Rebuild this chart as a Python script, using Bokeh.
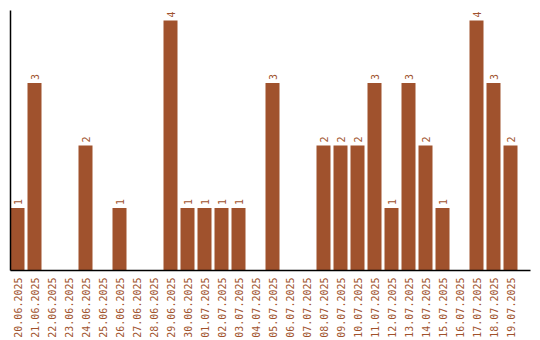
import math
from bokeh.plotting import figure
from bokeh.models import FixedTicker, Range1d, ColumnDataSource
from bokeh.core.properties import value
from bokeh.embed import file_html
from bokeh.resources import INLINE

dates = ["20.06.2025", "21.06.2025", "22.06.2025", "23.06.2025", "24.06.2025",
         "25.06.2025", "26.06.2025", "27.06.2025", "28.06.2025", "29.06.2025",
         "30.06.2025", "01.07.2025", "02.07.2025", "03.07.2025", "04.07.2025",
         "05.07.2025", "06.07.2025", "07.07.2025", "08.07.2025", "09.07.2025",
         "10.07.2025", "11.07.2025", "12.07.2025", "13.07.2025", "14.07.2025",
         "15.07.2025", "16.07.2025", "17.07.2025", "18.07.2025", "19.07.2025"]
counts = [1, 3, 0, 0, 2, 0, 1, 0, 0, 4,
          1, 1, 1, 1, 0, 3, 0, 0, 2, 2,
          2, 3, 1, 3, 2, 1, 0, 4, 3, 2]

COLOR = "#A0522D"
FONT = "DejaVu Sans Mono"

xs = list(range(len(dates)))
bw = 14 / 17

p = figure(width=540, height=340, output_backend="svg", toolbar_location=None,
           x_range=Range1d(-bw / 2, len(dates) - 1 + 20 / 17),
           y_range=Range1d(0, 4.16),
           min_border_left=10, min_border_right=10, min_border_top=10, min_border_bottom=70)
p.outline_line_color = None
p.grid.visible = False

p.vbar(x=xs, top=counts, width=bw, bottom=0, fill_color=COLOR, line_color=None)

lab = ColumnDataSource(dict(
    x=[x for x, c in zip(xs, counts) if c > 0],
    y=[c for c in counts if c > 0],
    t=[str(c) for c in counts if c > 0]))
p.text(x="x", y="y", text="t", source=lab, angle=math.pi / 2, text_align="left",
       text_baseline="middle", y_offset=-3, text_color=COLOR,
       text_font=value(FONT), text_font_size="10px")

p.xaxis.ticker = FixedTicker(ticks=xs)
p.xaxis.major_label_overrides = {i: d for i, d in enumerate(dates)}
p.xaxis.major_label_orientation = math.pi / 2
p.xaxis.major_label_text_color = COLOR
p.xaxis.major_label_text_font = FONT
p.xaxis.major_label_text_font_size = "10px"
p.xaxis.major_label_standoff = 7
p.xaxis.major_tick_out = 0
p.xaxis.major_tick_in = 0
p.xaxis.minor_tick_out = 0
p.xaxis.minor_tick_in = 0
p.xaxis.axis_line_color = "black"
p.xaxis.axis_line_width = 1.5

p.yaxis.ticker = FixedTicker(ticks=[])
p.yaxis.major_tick_out = 0
p.yaxis.major_tick_in = 0
p.yaxis.minor_tick_out = 0
p.yaxis.minor_tick_in = 0
p.yaxis.axis_line_color = "black"
p.yaxis.axis_line_width = 1.5
p.yaxis.major_label_standoff = 0

open("out.html", "w").write(file_html(p, INLINE))
